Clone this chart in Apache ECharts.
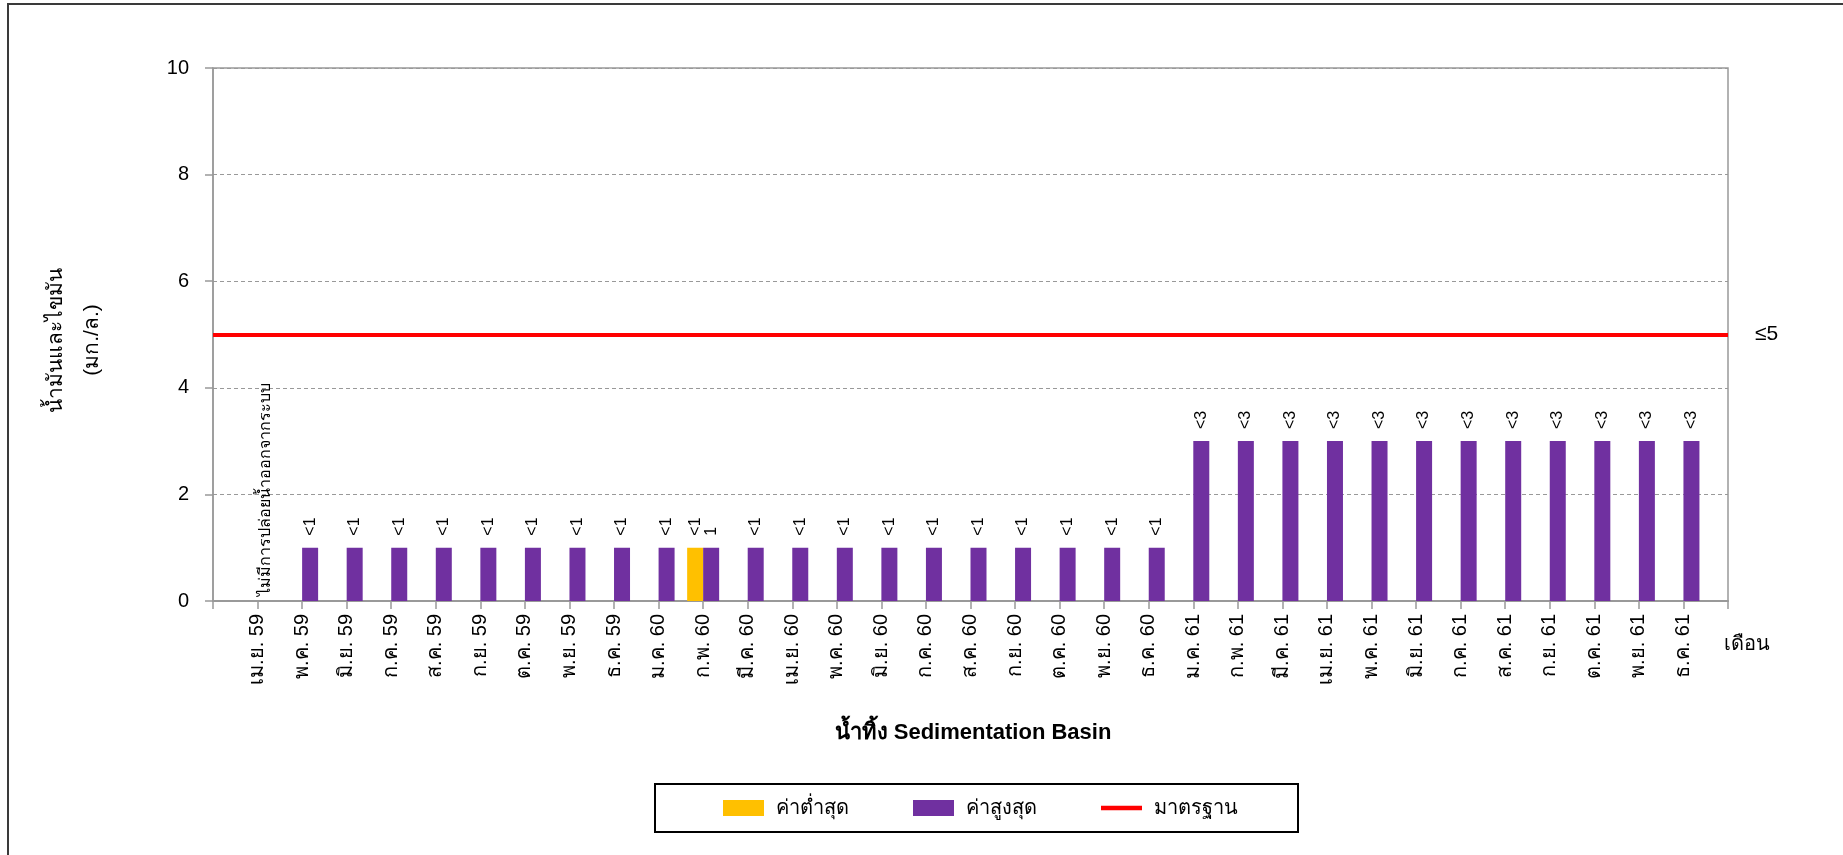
<!DOCTYPE html>
<html>
<head>
<meta charset="utf-8">
<script src="https://cdn.jsdelivr.net/npm/echarts@6/dist/echarts.min.js"></script>
<style>
  html, body { margin: 0; padding: 0; background: #fff; overflow: hidden; }
  #chart { width: 1843px; height: 855px; }
</style>
</head>
<body>
<div id="chart"></div>
<script>
// months (Thai Buddhist year, short)
const months = ['เม.ย. 59', 'พ.ค. 59', 'มิ.ย. 59', 'ก.ค. 59', 'ส.ค. 59', 'ก.ย. 59', 'ต.ค. 59', 'พ.ย. 59', 'ธ.ค. 59',
  'ม.ค. 60', 'ก.พ. 60', 'มี.ค. 60', 'เม.ย. 60', 'พ.ค. 60', 'มิ.ย. 60', 'ก.ค. 60', 'ส.ค. 60', 'ก.ย. 60', 'ต.ค. 60', 'พ.ย. 60', 'ธ.ค. 60',
  'ม.ค. 61', 'ก.พ. 61', 'มี.ค. 61', 'เม.ย. 61', 'พ.ค. 61', 'มิ.ย. 61', 'ก.ค. 61', 'ส.ค. 61', 'ก.ย. 61', 'ต.ค. 61', 'พ.ย. 61', 'ธ.ค. 61'];

// ค่าต่ำสุด
const minValues = [null, null, null, null, null, null, null, null, null, null, 1, null, null, null, null, null, null, null, null, null, null,
  null, null, null, null, null, null, null, null, null, null, null, null];
const minLabels = ['', '', '', '', '', '', '', '', '', '', '<1', '', '', '', '', '', '', '', '', '', '',
  '', '', '', '', '', '', '', '', '', '', '', ''];

// ค่าสูงสุด
const maxValues = [null, 1, 1, 1, 1, 1, 1, 1, 1, 1, 1, 1, 1, 1, 1, 1, 1, 1, 1, 1, 1,
  3, 3, 3, 3, 3, 3, 3, 3, 3, 3, 3, 3];
const maxLabels = ['', '<1', '<1', '<1', '<1', '<1', '<1', '<1', '<1', '<1', '1', '<1', '<1', '<1', '<1', '<1', '<1', '<1', '<1', '<1', '<1',
  '<3', '<3', '<3', '<3', '<3', '<3', '<3', '<3', '<3', '<3', '<3', '<3'];

// month without discharge
const noteIndex = 0;
const noteText = 'ไม่มีการปล่อยน้ำออกจากระบบ';

const standardValue = 5;
const standardLabel = '≤5';
const yTicks = [0, 2, 4, 6, 8, 10];

const FONT = 'Liberation Sans, Arial, sans-serif';

// one empty slot at each end, like the original sheet
const axisCats = [''].concat(months, ['']);

function buildBars(values, labels, withNote) {
  const out = [null];
  values.forEach(function (v, i) {
    if (v == null) {
      if (withNote && i === noteIndex) {
        out.push({ value: 0, label: { show: true, formatter: noteText, distance: 5, fontSize: 16 } });
      } else {
        out.push(null);
      }
    } else {
      out.push({ value: v, label: { show: labels[i] !== '', formatter: labels[i] } });
    }
  });
  out.push(null);
  return out;
}

const barLabel = {
  show: true,
  position: 'top',
  rotate: 90,
  align: 'left',
  verticalAlign: 'middle',
  distance: 12,
  color: '#000',
  fontSize: 16,
  fontFamily: FONT
};

const myChart = echarts.init(document.getElementById('chart'));
myChart.setOption({
  animation: false,
  backgroundColor: '#fff',
  textStyle: { fontFamily: FONT },
  grid: {
    left: 213, right: 115, top: 68, bottom: 254,
    show: true, borderColor: '#999', borderWidth: 1.5
  },
  legend: {
    left: 655, top: 784,
    padding: [14, 60, 14, 68],
    itemGap: 64,
    itemWidth: 41, itemHeight: 16,
    borderColor: '#000', borderWidth: 2,
    textStyle: { fontSize: 20, color: '#000', fontFamily: FONT, padding: [0, 0, 0, 7] },
    data: [
      { name: 'ค่าต่ำสุด', icon: 'rect' },
      { name: 'ค่าสูงสุด', icon: 'rect' },
      { name: 'มาตรฐาน', icon: 'path://M0,0 H44 V5 H0 Z' }
    ]
  },
  xAxis: {
    type: 'category',
    data: axisCats,
    boundaryGap: false,
    axisLine: { lineStyle: { color: '#999', width: 2 } },
    axisTick: { show: true, interval: 0, length: 8, lineStyle: { color: '#999', width: 1.5 } },
    axisLabel: { interval: 0, rotate: 90, fontSize: 20, color: '#000', margin: 13, fontFamily: FONT },
    splitLine: { show: false }
  },
  yAxis: {
    type: 'value',
    min: yTicks[0], max: yTicks[yTicks.length - 1], interval: 2,
    axisLine: { show: true, lineStyle: { color: '#999', width: 1.5 } },
    axisTick: { show: true, length: 8, lineStyle: { color: '#999', width: 1.5 } },
    axisLabel: { fontSize: 20, color: '#000', margin: 24, fontFamily: FONT },
    splitLine: { show: true, lineStyle: { color: '#999', type: [4, 3], width: 1.2 } }
  },
  graphic: [
    { type: 'rect', shape: { x: 8, y: 4, width: 1900, height: 900 }, style: { fill: 'none', stroke: '#3a3a3a', lineWidth: 2 }, silent: true },
    { type: 'text', x: 56, y: 340, rotation: Math.PI / 2,
      style: { text: 'น้ำมันและไขมัน', font: '21px ' + FONT, fill: '#000', textAlign: 'center', textVerticalAlign: 'middle' } },
    { type: 'text', x: 92, y: 340, rotation: Math.PI / 2,
      style: { text: '(มก./ล.)', font: '21px ' + FONT, fill: '#000', textAlign: 'center', textVerticalAlign: 'middle' } },
    { type: 'text', x: 1724, y: 644,
      style: { text: 'เดือน', font: '20px ' + FONT, fill: '#000', textAlign: 'left', textVerticalAlign: 'middle' } },
    { type: 'text', x: 973, y: 733,
      style: { text: 'น้ำทิ้ง Sedimentation Basin', font: 'bold 22px ' + FONT, fill: '#000', textAlign: 'center', textVerticalAlign: 'middle' } }
  ],
  series: [
    {
      name: 'ค่าต่ำสุด', type: 'bar',
      data: buildBars(minValues, minLabels, false),
      barWidth: 16, barGap: '0%',
      itemStyle: { color: '#FFC000' },
      label: barLabel
    },
    {
      name: 'ค่าสูงสุด', type: 'bar',
      data: buildBars(maxValues, maxLabels, true),
      barWidth: 16, barGap: '0%',
      itemStyle: { color: '#7030A0' },
      label: barLabel
    },
    {
      name: 'มาตรฐาน', type: 'line',
      data: [],
      symbol: 'none',
      itemStyle: { color: '#FF0000' },
      lineStyle: { color: '#FF0000', width: 4 },
      markLine: {
        silent: true,
        symbol: 'none',
        lineStyle: { color: '#FF0000', width: 4, type: 'solid' },
        label: { show: true, position: 'end', formatter: standardLabel, distance: 27, fontSize: 21, color: '#000', fontFamily: FONT },
        data: [{ yAxis: standardValue }]
      }
    }
  ]
});
</script>
</body>
</html>
